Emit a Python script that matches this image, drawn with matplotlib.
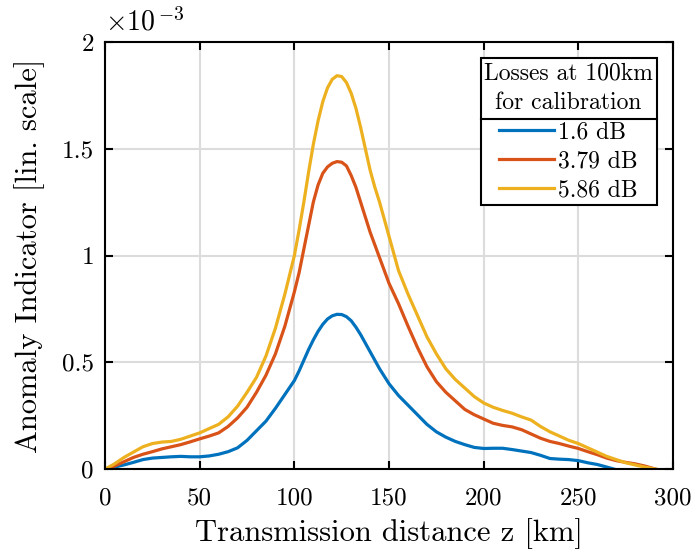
import matplotlib
matplotlib.use('Agg')
import matplotlib.pyplot as plt
from matplotlib.ticker import FuncFormatter
from matplotlib.lines import Line2D

plt.rcParams['font.family'] = ['cmr10', 'DejaVu Serif']
plt.rcParams['mathtext.fontset'] = 'cm'
plt.rcParams['axes.unicode_minus'] = False

# distance [km] and anomaly indicator [x1e-3] for each calibration loss
z_blue = [0, 5, 10, 15, 20, 25, 30, 35, 40, 45, 50, 55, 60, 65, 70, 75, 80, 85, 90, 95,
          100, 102.5, 105, 107.5, 110, 112.5, 115, 117.5, 120, 122.5, 125, 127.5, 130,
          132.5, 135, 137.5, 140, 142.5, 145, 147.5, 150, 155, 160, 165, 170,
          175, 180, 185, 190, 195, 200, 205, 210, 215, 220, 225, 230, 235, 240, 245, 250,
          255, 260, 265, 269]
ai_blue = [0, 0.01, 0.02, 0.032, 0.045, 0.052, 0.055, 0.058, 0.06, 0.058, 0.058, 0.062,
           0.07, 0.082, 0.1, 0.135, 0.18, 0.225, 0.285, 0.35,
           0.415, 0.46, 0.51, 0.56, 0.605, 0.645, 0.678, 0.703, 0.718, 0.725, 0.724, 0.714,
           0.695, 0.665, 0.63, 0.59, 0.55, 0.51, 0.47, 0.435, 0.4,
           0.345, 0.3, 0.255, 0.21, 0.175, 0.15,
           0.13, 0.115, 0.102, 0.097, 0.098, 0.098, 0.092, 0.085, 0.078, 0.065, 0.05, 0.047,
           0.045, 0.04, 0.03, 0.022, 0.01, 0]

z_red = [0, 5, 10, 15, 20, 25, 30, 35, 40, 45, 50, 55, 60, 65, 70, 75, 80, 85, 90, 95,
         100, 102.5, 105, 107.5, 110, 112.5, 115, 117.5, 120, 122.5, 125, 127.5, 130,
         132.5, 135, 137.5, 140, 142.5, 145, 147.5, 150, 155, 160, 165, 170,
         175, 180, 185, 190, 195, 200, 205, 210, 215, 220, 225, 230, 235, 240, 245, 250,
         255, 260, 265, 270, 275, 280, 285, 291]
ai_red = [0, 0.015, 0.035, 0.055, 0.07, 0.082, 0.095, 0.105, 0.115, 0.128, 0.142, 0.155,
          0.17, 0.2, 0.24, 0.29, 0.36, 0.44, 0.54, 0.67,
          0.83, 0.92, 1.03, 1.14, 1.25, 1.33, 1.385, 1.415, 1.432, 1.44, 1.437, 1.42,
          1.375, 1.32, 1.25, 1.18, 1.11, 1.05, 0.99, 0.93, 0.87,
          0.775, 0.67, 0.57, 0.48, 0.41, 0.36, 0.32,
          0.28, 0.255, 0.235, 0.215, 0.205, 0.198, 0.185, 0.165, 0.145, 0.13, 0.12, 0.108,
          0.097, 0.082, 0.068, 0.052, 0.04, 0.032, 0.025, 0.015, 0]

z_yellow = z_red
ai_yellow = [0, 0.025, 0.055, 0.08, 0.105, 0.12, 0.127, 0.13, 0.14, 0.155, 0.17, 0.19,
             0.21, 0.245, 0.295, 0.36, 0.43, 0.53, 0.66, 0.82,
             1.0, 1.12, 1.25, 1.39, 1.52, 1.63, 1.72, 1.785, 1.825, 1.842, 1.838, 1.81,
             1.76, 1.69, 1.6, 1.5, 1.4, 1.32, 1.25, 1.17, 1.09,
             0.93, 0.82, 0.72, 0.62, 0.54, 0.47,
             0.42, 0.38, 0.34, 0.31, 0.29, 0.275, 0.262, 0.245, 0.23, 0.2, 0.175, 0.155,
             0.135, 0.12, 0.1, 0.08, 0.06, 0.045, 0.03, 0.02, 0.01, 0]

labels = ['1.6 dB', '3.79 dB', '5.86 dB']
colors = ['#0072BD', '#D95319', '#EDB120']

fig = plt.figure(figsize=(6.91, 5.52), dpi=100)
ax = fig.add_axes([0.152, 0.150, 0.822, 0.774])

for z, ai, lab, c in zip([z_blue, z_red, z_yellow], [ai_blue, ai_red, ai_yellow], labels, colors):
    ax.plot(z, [v * 1e-3 for v in ai], color=c, linewidth=2.3, label=lab,
            solid_joinstyle='round')

ax.set_xlim(0, 300)
ax.set_ylim(0, 2e-3)
ax.set_xticks([0, 50, 100, 150, 200, 250, 300])
ax.set_yticks([0, 0.5e-3, 1e-3, 1.5e-3, 2e-3])
ax.yaxis.set_major_formatter(FuncFormatter(lambda v, p: '%g' % round(v * 1e3, 3)))

ax.grid(True, color='#dcdcdc', linewidth=1.5)
ax.set_axisbelow(True)
for s in ax.spines.values():
    s.set_linewidth(1.5)
ax.tick_params(direction='in', length=6, width=1.5, top=True, right=True,
               labelsize=18)
ax.tick_params(axis='x', pad=13)
ax.tick_params(axis='y', pad=8)

ax.set_xlabel('Transmission distance z [km]', fontsize=22, labelpad=6)
ax.set_ylabel('Anomaly Indicator [lin. scale]', fontsize=22, labelpad=12)
ax.text(0.0, 1.012, r'$\times 10^{\,\mathrm{-3}}$', transform=ax.transAxes,
        fontsize=20, ha='left', va='bottom')

leg = ax.legend(title='Losses at 100km\nfor calibration', loc='upper right',
                fontsize=17, title_fontsize=17, fancybox=False, framealpha=1,
                edgecolor='black', handlelength=2.3, handletextpad=0.2,
                borderaxespad=0.7, labelspacing=0.3, borderpad=0.15)
leg.get_frame().set_linewidth(1.5)
leg.get_title().set_multialignment('center')
leg.get_title().set_linespacing(1.45)

# separator line between legend title and entries
fig.canvas.draw()
inv = fig.transFigure.inverted()
fb = leg.get_frame().get_window_extent()
tb = leg.get_title().get_window_extent()
y_sep = tb.y0 - 5
(x0, y0) = inv.transform((fb.x0, y_sep))
(x1, _) = inv.transform((fb.x1, y_sep))
fig.add_artist(Line2D([x0, x1], [y0, y0], color='black', linewidth=1.5))

fig.savefig('out.png', dpi=100)
